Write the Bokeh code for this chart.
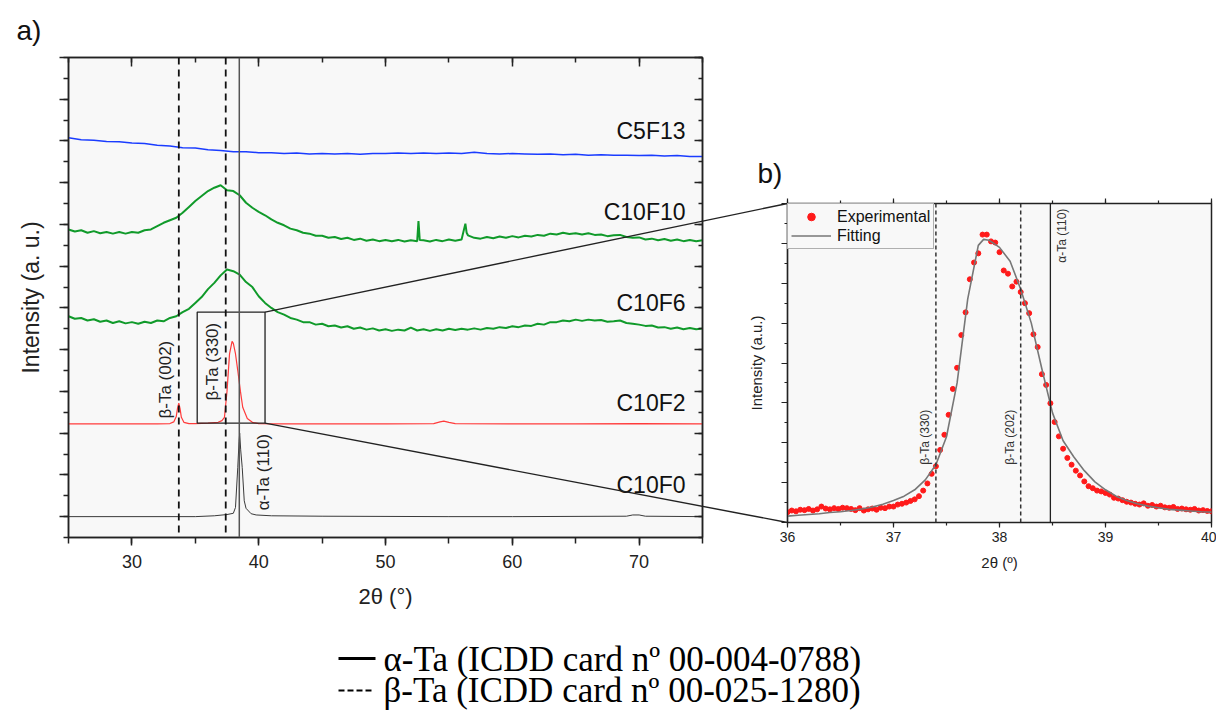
import math
from bokeh.plotting import figure
from bokeh.models import Range1d, LinearAxis, FixedTicker, Legend, LegendItem, Span
from bokeh.layouts import column, row
from bokeh.embed import file_html
from bokeh.resources import INLINE
from bokeh.core.properties import value

SANS = "Liberation Sans"
SERIF = "Liberation Serif"

# ---------------- data: panel a (2theta in degrees, offset intensity a.u.) ----------------
c10f0_x = [25, 35, 36.5, 37.5, 38.0, 38.17, 38.35, 38.45, 38.5, 38.58, 38.7, 38.86, 39.0, 39.4, 39.8, 41, 45, 55, 60, 69.0, 69.5, 70.0, 70.5, 75]
c10f0_y = [0.0, 0.0, 0.02, 0.05, 0.08, 0.22, 1.18, 1.8, 2.0, 1.6, 1.18, 0.38, 0.2, 0.07, 0.04, 0.02, 0.01, 0.0, 0.0, 0.01, 0.04, 0.04, 0.01, 0.0]

c10f2_x = [25, 30, 32, 33.0, 33.3, 33.5, 33.6, 33.7, 33.8, 33.9, 34.1, 34.5, 35, 36, 36.8, 37.1, 37.3, 37.5, 37.7, 37.9, 38.0, 38.16, 38.35, 38.56, 38.74, 39.1, 39.5, 40, 42, 45, 50, 53.8, 54.3, 54.6, 55.0, 55.5, 60, 65, 70, 75]
c10f2_y = [2.22, 2.22, 2.22, 2.23, 2.27, 2.40, 2.60, 2.72, 2.58, 2.38, 2.26, 2.23, 2.23, 2.24, 2.26, 2.30, 2.38, 3.00, 3.90, 4.20, 4.15, 3.92, 3.50, 3.00, 2.62, 2.35, 2.26, 2.23, 2.22, 2.22, 2.22, 2.23, 2.27, 2.29, 2.26, 2.23, 2.22, 2.22, 2.23, 2.22]

c10f6_x = [25.0, 25.5, 26.0, 26.5, 27.0, 27.5, 28.0, 28.5, 29.0, 29.5, 30.0, 30.5, 31.0, 31.5, 32.0, 32.5, 33.0, 33.5, 34.0, 34.5,
           35.0, 35.5, 36.0, 36.5, 37.0, 37.5, 38.0, 38.5, 39.0, 39.5, 40.0, 40.5, 41.0, 41.5, 42.0, 42.5, 43.0, 43.5, 44.0, 44.5,
           45.0, 45.5, 46.0, 46.5, 47.0, 47.5, 48.0, 48.5, 49.0, 49.5, 50.0, 50.5, 51.0, 51.5, 52.0, 52.5, 53.0, 53.5, 54.0, 54.5,
           55.0, 55.5, 56.0, 56.5, 57.0, 57.5, 58.0, 58.5, 59.0, 59.5, 60.0, 60.5, 61.0, 61.5, 62.0, 62.5, 63.0, 63.5, 64.0, 64.5,
           65.0, 65.5, 66.0, 66.5, 67.0, 67.5, 68.0, 68.5, 69.0, 69.5, 70.0, 70.5, 71.0, 71.5, 72.0, 72.5, 73.0, 73.5, 74.0, 74.5, 75.0]
c10f6_y = [4.80, 4.74, 4.76, 4.70, 4.73, 4.67, 4.70, 4.64, 4.68, 4.63, 4.66, 4.62, 4.67, 4.64, 4.70, 4.68, 4.76, 4.80, 4.90, 4.98,
           5.12, 5.26, 5.45, 5.60, 5.78, 5.92, 5.88, 5.80, 5.62, 5.50, 5.28, 5.12, 5.00, 4.90, 4.84, 4.76, 4.72, 4.66, 4.66, 4.60,
           4.62, 4.56, 4.58, 4.53, 4.56, 4.50, 4.53, 4.48, 4.51, 4.46, 4.49, 4.45, 4.48, 4.46, 4.53, 4.46, 4.49, 4.45, 4.49, 4.46,
           4.50, 4.47, 4.50, 4.48, 4.51, 4.48, 4.52, 4.50, 4.54, 4.52, 4.56, 4.54, 4.58, 4.57, 4.62, 4.60, 4.66, 4.66, 4.70, 4.68,
           4.72, 4.69, 4.72, 4.70, 4.71, 4.67, 4.68, 4.70, 4.64, 4.62, 4.60, 4.57, 4.58, 4.53, 4.54, 4.50, 4.53, 4.49, 4.52, 4.49, 4.51]

c10f10_x = [25.0, 25.5, 26.0, 26.5, 27.0, 27.5, 28.0, 28.5, 29.0, 29.5, 30.0, 30.5, 31.0, 31.5, 32.0, 32.5, 33.0, 33.5, 34.0, 34.5,
            35.0, 35.5, 36.0, 36.5, 37.0, 37.5, 38.0, 38.5, 39.0, 39.5, 40.0, 40.5, 41.0, 41.5, 42.0, 42.5, 43.0, 43.5, 44.0, 44.5,
            45.0, 45.5, 46.0, 46.5, 47.0, 47.5, 48.0, 48.5, 49.0, 49.5, 50.0, 50.5, 51.0, 51.5, 52.0, 52.5, 52.6, 52.7, 53.0, 53.5,
            54.0, 54.5, 55.0, 55.5, 56.0, 56.3, 56.4, 56.5, 57.0, 57.5, 58.0, 58.5, 59.0, 59.5, 60.0, 60.5, 61.0, 61.5, 62.0, 62.5,
            63.0, 63.5, 64.0, 64.5, 65.0, 65.5, 66.0, 66.5, 67.0, 67.5, 68.0, 68.5, 69.0, 69.5, 70.0, 70.5, 71.0, 71.5, 72.0, 72.5,
            73.0, 73.5, 74.0, 74.5, 75.0]
c10f10_y = [6.88, 6.83, 6.86, 6.80, 6.84, 6.79, 6.82, 6.78, 6.82, 6.78, 6.82, 6.80, 6.86, 6.88, 6.96, 7.04, 7.10, 7.16, 7.28, 7.42,
            7.56, 7.68, 7.80, 7.88, 7.94, 7.82, 7.80, 7.70, 7.52, 7.40, 7.30, 7.22, 7.12, 7.04, 6.98, 6.90, 6.86, 6.80, 6.78, 6.73,
            6.73, 6.68, 6.70, 6.65, 6.68, 6.63, 6.66, 6.61, 6.64, 6.60, 6.63, 6.60, 6.63, 6.59, 6.62, 6.60, 7.08, 6.63, 6.62, 6.59,
            6.63, 6.60, 6.64, 6.61, 6.64, 7.02, 6.80, 6.74, 6.68, 6.66, 6.70, 6.67, 6.71, 6.68, 6.72, 6.69, 6.73, 6.71, 6.75, 6.73,
            6.78, 6.76, 6.80, 6.77, 6.79, 6.76, 6.79, 6.75, 6.76, 6.72, 6.74, 6.75, 6.70, 6.68, 6.69, 6.64, 6.66, 6.62, 6.65, 6.61,
            6.64, 6.60, 6.63, 6.60, 6.62]

c5f13_x = [25, 26, 27, 28, 29, 30, 31, 32, 33, 34, 35, 36, 37, 38, 39, 40, 41, 42, 43, 44, 45, 46, 47, 48, 49, 50,
           51, 52, 53, 54, 55, 56, 57, 58, 59, 60, 61, 62, 63, 64, 65, 66, 67, 68, 69, 70, 71, 72, 73, 74, 75]
c5f13_y = [9.08, 9.03, 9.02, 8.99, 8.98, 8.95, 8.94, 8.90, 8.88, 8.84, 8.83, 8.79, 8.77, 8.74, 8.74, 8.72, 8.72, 8.70, 8.71, 8.69,
           8.70, 8.69, 8.70, 8.68, 8.70, 8.70, 8.71, 8.70, 8.71, 8.70, 8.71, 8.70, 8.73, 8.70, 8.69, 8.70, 8.69, 8.68, 8.69, 8.67,
           8.68, 8.66, 8.67, 8.66, 8.66, 8.65, 8.66, 8.64, 8.65, 8.63, 8.63]

sample_names = ["C5F13", "C10F10", "C10F6", "C10F2", "C10F0"]
sample_label_y = [9.25, 7.29, 5.11, 2.73, 0.75]

beta_ref_a = [33.7, 37.4]
alpha_ref = [38.47]
peak_labels_a = ["β-Ta (002)", "β-Ta (330)", "α-Ta (110)"]
peak_label_x_a = [32.65, 36.36, 40.34]
peak_label_y_a = [2.35, 2.78, 0.15]

zoom_box = dict(x0=35.15, x1=40.5, y0=2.24, y1=4.9)

# ---------------- data: panel b ----------------
exp_x = [36.00, 36.04, 36.08, 36.12, 36.16, 36.20, 36.24, 36.28, 36.32, 36.36, 36.40, 36.44, 36.48, 36.52, 36.56, 36.60, 36.64,
         36.68, 36.72, 36.76, 36.80, 36.84, 36.88, 36.92, 36.96, 37.00, 37.04, 37.08, 37.12, 37.16, 37.20, 37.24, 37.28, 37.32,
         37.36, 37.40, 37.44, 37.48, 37.52, 37.56, 37.60, 37.64, 37.68, 37.72, 37.76, 37.80, 37.84, 37.88, 37.92, 37.96, 38.00,
         38.04, 38.08, 38.12, 38.16, 38.20, 38.24, 38.28, 38.32, 38.36, 38.40, 38.44, 38.48, 38.52, 38.56, 38.60, 38.64, 38.68,
         38.72, 38.76, 38.80, 38.84, 38.88, 38.92, 38.96, 39.00, 39.04, 39.08, 39.12, 39.16, 39.20, 39.24, 39.28, 39.32, 39.36,
         39.40, 39.44, 39.48, 39.52, 39.56, 39.60, 39.64, 39.68, 39.72, 39.76, 39.80, 39.84, 39.88, 39.92, 39.96, 40.00]
exp_y = [0.26, 0.30, 0.28, 0.32, 0.31, 0.34, 0.30, 0.33, 0.40, 0.35, 0.33, 0.36, 0.34, 0.37, 0.36, 0.34, 0.31,
         0.36, 0.30, 0.33, 0.35, 0.32, 0.37, 0.36, 0.40, 0.40, 0.45, 0.47, 0.50, 0.54, 0.58, 0.66, 0.80, 0.98,
         1.22, 1.41, 1.82, 2.20, 2.70, 3.35, 3.88, 4.70, 5.27, 6.10, 6.52, 6.75, 7.22, 7.22, 7.05, 7.02, 6.78,
         6.32, 6.24, 5.92, 6.04, 5.78, 5.50, 5.25, 4.72, 4.40, 3.72, 3.45, 2.99, 2.52, 2.16, 1.85, 1.62, 1.45,
         1.30, 1.18, 1.03, 0.91, 0.86, 0.80, 0.78, 0.74, 0.70, 0.62, 0.60, 0.56, 0.52, 0.50, 0.47, 0.45, 0.48,
         0.42, 0.44, 0.40, 0.42, 0.38, 0.37, 0.39, 0.34, 0.35, 0.33, 0.32, 0.34, 0.30, 0.31, 0.29, 0.28]

fit_x = [36.0, 36.1, 36.2, 36.3, 36.4, 36.5, 36.6, 36.7, 36.8, 36.9, 37.0, 37.1, 37.2, 37.3, 37.4, 37.5, 37.6, 37.7, 37.8,
         37.85, 37.9, 38.0, 38.1, 38.2, 38.3, 38.4, 38.5, 38.6, 38.7, 38.8, 38.9, 39.0, 39.1, 39.2, 39.3, 39.4, 39.5, 39.6,
         39.7, 39.8, 39.9, 40.0]
fit_y = [0.16, 0.18, 0.20, 0.22, 0.25, 0.27, 0.30, 0.34, 0.39, 0.46, 0.55, 0.66, 0.82, 1.07, 1.45, 2.15, 3.50, 5.60, 6.95,
         7.10, 7.08, 6.90, 6.55, 5.85, 5.00, 3.85, 2.75, 2.05, 1.65, 1.30, 1.02, 0.82, 0.66, 0.55, 0.47, 0.41, 0.37, 0.33,
         0.31, 0.29, 0.27, 0.26]

beta_ref_b = [37.4, 38.2]
alpha_ref_b = [38.48]
peak_labels_b = ["β-Ta (330)", "β-Ta (202)", "α-Ta (110)"]
peak_label_x_b = [37.30, 38.10, 38.59]
peak_label_y_b = [1.45, 1.45, 7.87]

legend_texts = ["α-Ta (ICDD card nº 00-004-0788)", "β-Ta (ICDD card nº 00-025-1280)"]

# ---------------- layout geometry (page pixels, origin at top-left of the page) ----------------
A_LEFT, A_TOP = 0, 0
A_BL, A_BR, A_BT, A_BB = 68, 38, 57, 81
A_FW, A_FH = 634, 480
A_W, A_H = A_BL + A_FW + A_BR, A_BT + A_FH + A_BB
B_LEFT, B_TOP = A_LEFT + A_W, 0
B_BL, B_BR, B_BT, B_BB = 47, 5, 203, 96
B_FW, B_FH = 424, 319
B_W, B_H = B_BL + B_FW + B_BR, B_BT + B_FH + B_BB

A_XR, A_YR = (25, 75), (-0.5, 11)
B_XR, B_YR = (36, 40), (0, 8)

A_FL, A_FT = A_LEFT + A_BL, A_TOP + A_BT
B_FL, B_FT = B_LEFT + B_BL, B_TOP + B_BT


def a_px(x, y):
    px = A_FL + (x - A_XR[0]) / (A_XR[1] - A_XR[0]) * A_FW
    py = A_FT + (A_YR[1] - y) / (A_YR[1] - A_YR[0]) * A_FH
    return px, py


def make_fig(w_frame, h_frame, bl, br, bt, bb, xr, yr):
    f = figure(frame_width=w_frame, frame_height=h_frame, min_border_left=bl, min_border_right=br,
               min_border_top=bt, min_border_bottom=bb, x_range=Range1d(*xr), y_range=Range1d(*yr),
               toolbar_location=None, output_backend="svg", x_axis_location=None, y_axis_location=None,
               frame_align=False)
    f.grid.visible = False
    f.background_fill_color = "#f8f8f8"
    f.border_fill_color = "white"
    f.outline_line_color = "#222222"
    f.outline_line_width = 1.5
    return f


def axis(ticker, tin, tout, min_in, min_out, labels, font_size, label="", label_size="0px",
         lab_standoff=5, ax_standoff=5, lw=1.5):
    ax = LinearAxis(ticker=ticker)
    ax.axis_line_color = "#222222"
    ax.axis_line_width = lw
    ax.major_tick_line_color = "#222222"
    ax.minor_tick_line_color = "#222222"
    ax.major_tick_line_width = lw
    ax.minor_tick_line_width = lw
    ax.major_tick_in, ax.major_tick_out = tin, tout
    ax.minor_tick_in, ax.minor_tick_out = min_in, min_out
    ax.major_label_text_font = SANS
    ax.major_label_text_color = "#222222"
    if labels:
        ax.major_label_text_font_size = font_size
    else:
        ax.major_label_overrides = {t: " " for t in ticker.ticks}
        ax.major_label_text_font_size = "1px"
    ax.major_label_standoff = lab_standoff
    if label:
        ax.axis_label = label
        ax.axis_label_text_font = SANS
        ax.axis_label_text_font_style = "normal"
        ax.axis_label_text_font_size = label_size
        ax.axis_label_text_color = "#222222"
        ax.axis_label_standoff = ax_standoff
    return ax


# ---------------- panel a ----------------
pa = make_fig(A_FW, A_FH, A_BL, A_BR, A_BT, A_BB, A_XR, A_YR)
pa.extra_x_ranges = {"px": Range1d(A_FL, A_FL + A_FW)}
pa.extra_y_ranges = {"px": Range1d(A_FT + A_FH, A_FT)}

xt_a = FixedTicker(ticks=[30, 40, 50, 60, 70], minor_ticks=[25, 30, 35, 40, 45, 50, 55, 60, 65, 70, 75])
yt_a = FixedTicker(ticks=list(range(0, 12)), minor_ticks=[i * 0.5 for i in range(-1, 23)])
pa.add_layout(axis(xt_a, 0, 8, 0, 6, True, "18px", "2θ (°)", "22px", 9, 13), "below")
pa.add_layout(axis(yt_a, 0, 9, 0, 5, False, "0px", "Intensity (a. u.)", "23px", 4, 8), "left")
pa.add_layout(axis(xt_a, 9, 0, 5, 0, False, "0px"), "above")
pa.add_layout(axis(yt_a, 8, 0, 4, 0, False, "0px"), "right")

pa.line(c10f0_x, c10f0_y, line_color="#3a3a3a", line_width=1.0)
pa.line(c10f2_x, c10f2_y, line_color="#ff3b3b", line_width=1.2)
pa.line(c10f6_x, c10f6_y, line_color="#109a2a", line_width=2.0)
pa.line(c10f10_x, c10f10_y, line_color="#109a2a", line_width=2.0)
pa.line(c5f13_x, c5f13_y, line_color="#1a3cff", line_width=1.5)

for xv in beta_ref_a:
    pa.add_layout(Span(location=xv, dimension="height", line_color="#111111", line_width=1.8, line_dash="7 5"))
for xv in alpha_ref:
    pa.add_layout(Span(location=xv, dimension="height", line_color="#555555", line_width=1.5))

pa.text(x=[73.66] * len(sample_names), y=sample_label_y, text=sample_names, text_align="right",
        text_baseline="middle", text_font=value(SANS), text_font_size="23px", text_color="#111111")
pa.text(x=peak_label_x_a, y=peak_label_y_a, text=peak_labels_a, angle=math.pi / 2, text_align="left",
        text_baseline="middle", text_font=value(SANS), text_font_size="17px", text_color="#222222")

pa.quad(left=[zoom_box["x0"]], right=[zoom_box["x1"]], bottom=[zoom_box["y0"]], top=[zoom_box["y1"]],
        fill_alpha=0, line_color="#222222", line_width=1.3)

# connector lines (page pixel coordinates)
c_top0 = a_px(zoom_box["x1"], zoom_box["y1"])
c_bot0 = a_px(zoom_box["x1"], zoom_box["y0"])
conn_x0 = [c_top0[0], c_bot0[0]]
conn_y0 = [c_top0[1], c_bot0[1]]
conn_x1 = [B_FL, B_FL]
conn_y1 = [B_FT, B_FT + B_FH]
r1 = pa.segment(conn_x0, conn_y0, conn_x1, conn_y1, line_color="#222222", line_width=1.4,
                x_range_name="px", y_range_name="px")
r1.level = "overlay"

ta = pa.text(x=[16], y=[30], text=["a)"], text_font=value(SANS), text_font_size="28px", text_color="#111111",
             text_baseline="middle", x_range_name="px", y_range_name="px")
ta.level = "overlay"

# ---------------- panel b ----------------
pb = make_fig(B_FW, B_FH, B_BL, B_BR, B_BT, B_BB, B_XR, B_YR)
pb.extra_x_ranges = {"px": Range1d(B_FL, B_FL + B_FW)}
pb.extra_y_ranges = {"px": Range1d(B_FT + B_FH, B_FT)}
xt_b = FixedTicker(ticks=[36, 37, 38, 39, 40], minor_ticks=[36 + 0.5 * i for i in range(9)])
yt_b = FixedTicker(ticks=list(range(0, 9)), minor_ticks=[0.5 * i for i in range(17)])
pb.add_layout(axis(xt_b, 0, 5, 0, 3, True, "14px", "2θ (º)", "15px", 4, 9, 1.2), "below")
pb.add_layout(axis(yt_b, 0, 6, 0, 3, False, "0px", "Intensity (a.u.)", "15px", 4, 9, 1.2), "left")
pb.add_layout(axis(xt_b, 0, 5, 0, 3, False, "0px", lw=1.2), "above")

for xv in beta_ref_b:
    pb.add_layout(Span(location=xv, dimension="height", line_color="#333333", line_width=1.5, line_dash="4 3"))
for xv in alpha_ref_b:
    pb.add_layout(Span(location=xv, dimension="height", line_color="#222222", line_width=1.3))

dots = pb.scatter(exp_x, exp_y, size=5, marker="circle", fill_color="#ff1a1a", line_color="#ff1a1a")
fit = pb.line(fit_x, fit_y, line_color="#777777", line_width=1.6)

pb.text(x=peak_label_x_b[:2], y=peak_label_y_b[:2], text=peak_labels_b[:2], angle=math.pi / 2, text_align="left",
        text_baseline="middle", text_font=value(SANS), text_font_size="12px", text_color="#333333")
pb.text(x=peak_label_x_b[2:], y=peak_label_y_b[2:], text=peak_labels_b[2:], angle=math.pi / 2, text_align="right",
        text_baseline="middle", text_font=value(SANS), text_font_size="12px", text_color="#333333")

leg = Legend(items=[LegendItem(label="Experimental", renderers=[dots]), LegendItem(label="Fitting", renderers=[fit])],
             location="top_left", margin=0, padding=3, spacing=0, glyph_width=40, glyph_height=19, label_height=19,
             label_standoff=6, label_text_font=SANS, label_text_font_size="16px", label_text_color="#111111",
             border_line_color="#666666", border_line_width=1, background_fill_color="#f8f8f8", background_fill_alpha=1)
pb.add_layout(leg)

r2 = pb.segment(conn_x0, conn_y0, conn_x1, conn_y1, line_color="#222222", line_width=1.4,
                x_range_name="px", y_range_name="px")
r2.level = "overlay"

tb = pb.text(x=[757], y=[173], text=["b)"], text_font=value(SANS), text_font_size="28px", text_color="#111111",
             text_baseline="middle", x_range_name="px", y_range_name="px")
tb.level = "overlay"

# ---------------- bottom legend text ----------------
L_TOP, L_H = A_TOP + A_H, 96
pl = figure(frame_width=A_W + B_W, frame_height=L_H, x_range=Range1d(0, A_W + B_W),
            y_range=Range1d(L_TOP + L_H, L_TOP), toolbar_location=None, output_backend="svg",
            x_axis_type=None, y_axis_type=None, min_border=0, frame_align=False)
pl.grid.visible = False
pl.outline_line_color = None
pl.background_fill_color = "white"
pl.segment([338], [658], [375], [658], line_color="black", line_width=3)
pl.segment([338], [690], [372], [690], line_color="black", line_width=2, line_dash="6 3")
pl.text(x=[383, 383], y=[659, 690], text=legend_texts, text_baseline="middle", text_font=value(SERIF),
        text_font_size="35px", text_color="black")

layout = column(row(pa, pb), pl)
open("out.html", "w").write(file_html(layout, INLINE))
